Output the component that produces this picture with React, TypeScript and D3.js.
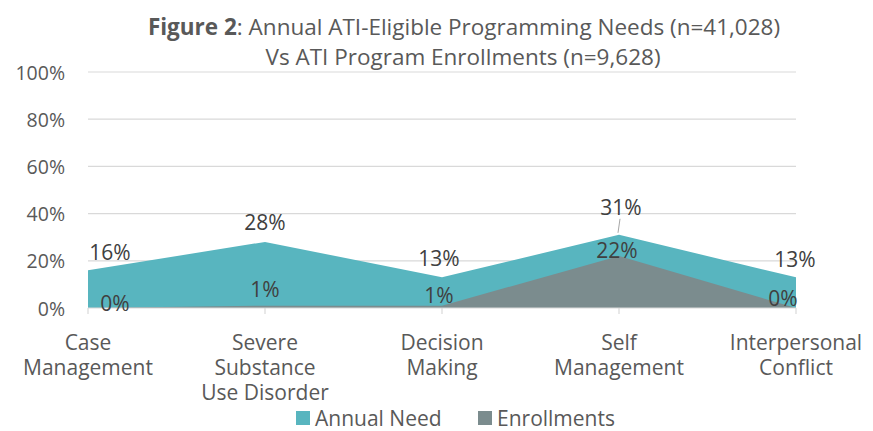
import React from 'react';
import * as d3 from 'd3';

const categories = [
  ['Case', 'Management'],
  ['Severe', 'Substance', 'Use Disorder'],
  ['Decision', 'Making'],
  ['Self', 'Management'],
  ['Interpersonal', 'Conflict'],
];
const annualNeed = [16, 28, 13, 31, 13];
const enrollments = [0, 1, 1, 22, 0];
const yTicks = [0, 20, 40, 60, 80, 100];
const seriesNames = ['Annual Need', 'Enrollments'];

// label nudges (Excel-style placement), in px relative to the point
const needNudge = [[22, -18], [0, -20], [-3, -19], [2, -28], [-1, -18]];
const enrollNudge = [[27, -5], [0, -17], [-3, -11], [-2, -6], [-13, -10]];

const W = 873;
const H = 431;
const TEAL = '#58B5BF';
const GREY = '#7B8C8E';
const TEXT = '#595959';
const FONT = '"Open Sans", sans-serif';

export default function App() {
  const x = d3.scalePoint<number>()
    .domain(categories.map((_, i) => i))
    .range([88, 796]);
  const y = d3.scaleLinear().domain([0, 100]).range([308, 72]);

  const area = d3.area<number>()
    .x((_, i) => x(i) as number)
    .y0(y(0))
    .y1(d => y(d));

  return (
    <svg width={W} height={H} style={{ position: 'absolute', left: 0, top: 0, background: '#fff' }}
      fontFamily={FONT}>
      {/* title */}
      <text x={464} y={26} textAnchor="middle" dominantBaseline="central" fontSize={22.5} fill={TEXT}>
        <tspan fontWeight="bold">Figure 2</tspan>: Annual ATI-Eligible Programming Needs (n=41,028)
      </text>
      <text x={463} y={56} textAnchor="middle" dominantBaseline="central" fontSize={22.5} fill={TEXT}>
        Vs ATI Program Enrollments (n=9,628)
      </text>

      {/* grid + y labels */}
      {yTicks.map(t => (
        <g key={t}>
          {t > 0 && <line x1={88} x2={796} y1={y(t)} y2={y(t)} stroke="#D9D9D9" strokeWidth={1.2} />}
          <text x={65} y={y(t)} textAnchor="end" dominantBaseline="central" fontSize={19.5} fill={TEXT}>{t}%</text>
        </g>
      ))}

      {/* areas */}
      <path d={area(annualNeed) || ''} fill={TEAL} />
      <path d={area(enrollments) || ''} fill={GREY} />

      {/* x axis */}
      <line x1={88} x2={796} y1={y(0)} y2={y(0)} stroke="#D9D9D9" strokeWidth={1.2} />
      {categories.map((_, i) => (
        <line key={i} x1={x(i)} x2={x(i)} y1={y(0)} y2={y(0) + 6} stroke="#D9D9D9" strokeWidth={1.2} />
      ))}
      {categories.map((lines, i) => (
        <text key={i} x={x(i)} textAnchor="middle" fontSize={21} fill={TEXT}>
          {lines.map((l, j) => (
            <tspan key={j} x={x(i)} y={342 + j * 25} dominantBaseline="central">{l}</tspan>
          ))}
        </text>
      ))}

      {/* leader line for Self Management need label */}
      <line x1={(x(3) as number) + 1} x2={(x(3) as number) - 1} y1={y(annualNeed[3]) - 16} y2={y(annualNeed[3]) - 2}
        stroke="#A6A6A6" strokeWidth={1} />

      {/* data labels */}
      {annualNeed.map((v, i) => (
        <text key={'n' + i} x={(x(i) as number) + needNudge[i][0]} y={y(v) + needNudge[i][1]}
          textAnchor="middle" dominantBaseline="central" fontSize={21} fill="#404040">{v}%</text>
      ))}
      {enrollments.map((v, i) => (
        <text key={'e' + i} x={(x(i) as number) + enrollNudge[i][0]} y={y(v) + enrollNudge[i][1]}
          textAnchor="middle" dominantBaseline="central" fontSize={21} fill="#404040">{v}%</text>
      ))}

      {/* legend */}
      <rect x={296} y={411} width={14} height={14} fill={TEAL} />
      <text x={315} y={418} dominantBaseline="central" fontSize={21} fill={TEXT}>{seriesNames[0]}</text>
      <rect x={478} y={411} width={14} height={14} fill={GREY} />
      <text x={497} y={418} dominantBaseline="central" fontSize={21} fill={TEXT}>{seriesNames[1]}</text>
    </svg>
  );
}
